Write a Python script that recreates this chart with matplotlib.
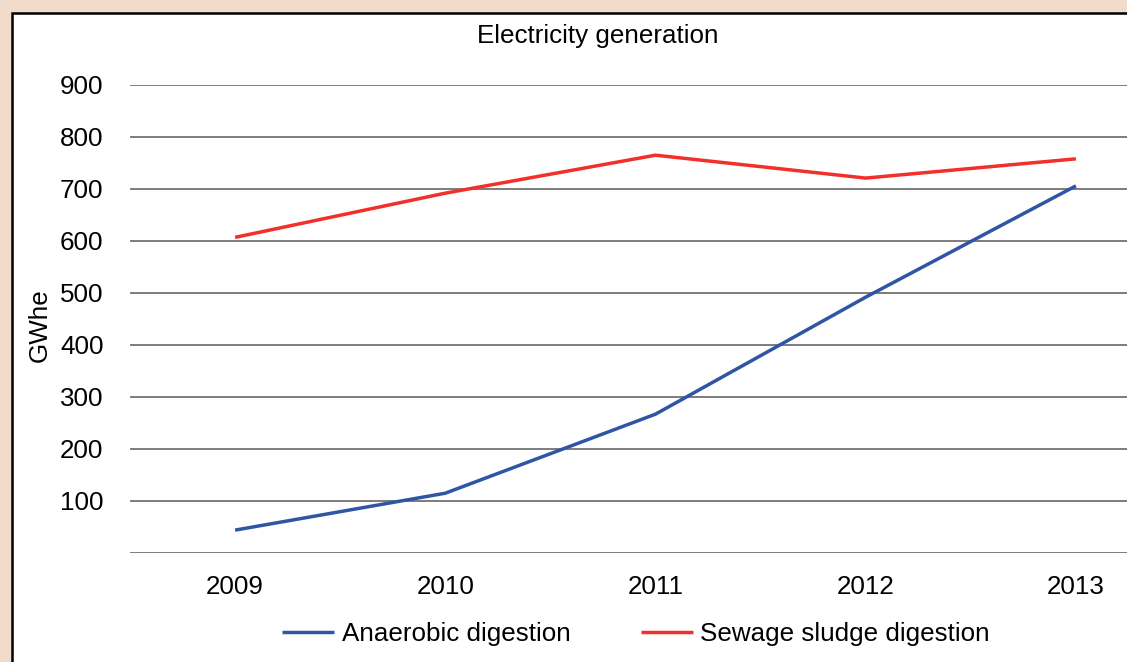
import matplotlib
matplotlib.use("Agg")
import matplotlib.pyplot as plt
from matplotlib.patches import Rectangle

plt.rcParams["font.family"] = ["Liberation Sans", "DejaVu Sans"]

years = ["2009", "2010", "2011", "2012", "2013"]
anaerobic = [44, 115, 267, 492, 706]
sewage = [607, 692, 765, 721, 758]
y_ticks = [0, 100, 200, 300, 400, 500, 600, 700, 800, 900]
y_labels = ["", "100", "200", "300", "400", "500", "600", "700", "800", "900"]

W, H = 1127, 662
fig = plt.figure(figsize=(W / 100, H / 100), dpi=100)
fig.patch.set_facecolor("#f1dccb")

# white panel with black frame, running off the right and bottom edges
panel = Rectangle((12 / W, -0.1), 1.2, 1 - 13 / H + 0.1, transform=fig.transFigure,
                  facecolor="white", edgecolor="black", linewidth=1.8, zorder=-1)
fig.patches.append(panel)

ax = fig.add_axes([130 / W, 1 - 553 / H, (1181 - 130) / W, (553 - 85) / H], zorder=1)
ax.set_facecolor("none")

x = list(range(len(years)))
blue_line, = ax.plot(x, anaerobic, color="#2f55a4", linewidth=2.5, solid_capstyle="butt", zorder=3)
red_line, = ax.plot(x, sewage, color="#f2302b", linewidth=2.5, solid_capstyle="butt", zorder=3)

ax.set_xlim(-0.5, 4.5)
ax.set_ylim(0, 900)
ax.set_xticks(x)
ax.set_xticklabels(years)
ax.set_yticks(y_ticks)
ax.set_yticklabels(y_labels)
ax.tick_params(axis="both", length=0, labelsize=18.7)
ax.tick_params(axis="y", pad=19)
ax.tick_params(axis="x", pad=16)
ax.grid(axis="y", color="#666666", linewidth=1.2)
ax.set_axisbelow(True)
for s in ax.spines.values():
    s.set_visible(False)

fig.text(40 / W, 1 - 325 / H, "GWhe", rotation=90, ha="center", va="center", fontsize=18.7)
fig.text(598 / W, 1 - 36 / H, "Electricity generation", ha="center", va="center", fontsize=18.7)

fig.legend([blue_line, red_line], ["Anaerobic digestion", "Sewage sludge digestion"],
           loc="center left", bbox_to_anchor=(282 / W, 1 - 634 / H), ncol=2, frameon=False,
           fontsize=18.7, handlelength=2.0, handletextpad=0.3, columnspacing=2.7,
           borderpad=0, borderaxespad=0)

fig.savefig("out.png", dpi=100, facecolor=fig.get_facecolor())
